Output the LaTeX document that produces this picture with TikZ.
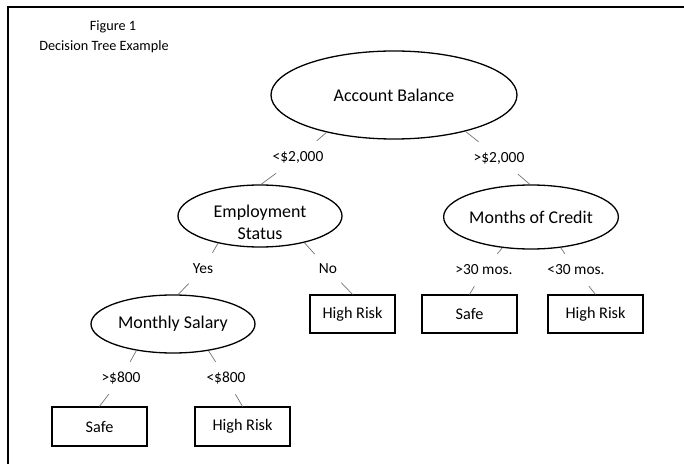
\documentclass[tikz,border=0pt]{standalone}
\usepackage{fontspec}
\setmainfont{Carlito}
\usetikzlibrary{shapes.geometric}
\begin{document}
\begin{tikzpicture}[x=1bp,y=-1bp,
  decision/.style={ellipse,draw,line width=1.3bp,inner sep=0pt,
    font=\fontsize{18}{22}\selectfont,align=center},
  leaf/.style={rectangle,draw,line width=1.2bp,inner sep=0pt,
    minimum height=38bp,minimum width=95bp,font=\fontsize{16.3}{20}\selectfont},
  cond/.style={rectangle,inner xsep=4bp,inner ysep=0pt,minimum height=32bp,
    font=\fontsize{15.5}{19}\selectfont},
  conn/.style={draw=black!55,line width=0.7bp},
  frame/.style={line width=2bp},
  caption/.style={font=\fontsize{14.3}{18}\selectfont}]
\useasboundingbox (0,0) rectangle (684,464);

% page frame
\draw[frame] (8,464) -- (8,7) -- (684,7);

% caption
\node[caption] (fig)   at (113,27) {Figure 1};
\node[caption] (title) at (104,47) {Decision Tree Example};

% decision nodes
\node[decision,minimum width=246bp,minimum height=88bp] (ab) at (394,95) {Account Balance};
\node[decision,minimum width=164bp,minimum height=62bp,
  label={[font=\fontsize{18}{22}\selectfont,align=center,yshift=-6bp]center:Employment\\Status}] (es) at (260,216) {};
\node[decision,minimum width=164bp,minimum height=64bp] (moc) at (531,217) {Months of Credit};
\node[decision,minimum width=164bp,minimum height=58bp] (ms) at (173,324) {Monthly Salary};

% leaves
\node[leaf,minimum width=85bp] (hr1) at (352.5,314) {High Risk};
\node[leaf] (safe1) at (469.5,314) {Safe};
\node[leaf] (hr2)   at (595.5,314) {High Risk};
\node[leaf,minimum height=39bp] (safe2) at (99.5,426.5) {Safe};
\node[leaf,minimum height=39bp] (hr3)   at (242.5,426.5) {High Risk};

% branch conditions
\node[cond] (lo)   at (298,157) {<\$2,000};
\node[cond] (hi)   at (499,158) {>\$2,000};
\node[cond] (yes)  at (203,269) {Yes};
\node[cond] (no)   at (328,269) {No};
\node[cond] (gt30) at (484,270) {>30 mos.};
\node[cond] (lt30) at (576,270) {<30 mos.};
\node[cond] (gt8)  at (121,378) {>\$800};
\node[cond] (lt8)  at (226,378) {<\$800};

% connectors
\draw[conn] (ab.209) -- (lo);
\draw[conn] (lo) -- (es.88);
\draw[conn] (ab.333) -- (hi);
\draw[conn] (hi) -- (moc.92);
\draw[conn] (es.213) -- (yes);
\draw[conn] (yes) -- (ms.80);
\draw[conn] (es.329) -- (no);
\draw[conn] (no) -- (hr1.north);
\draw[conn] (moc.227) -- (gt30);
\draw[conn] (gt30) -- (safe1.north);
\draw[conn] (moc.314) -- (lt30);
\draw[conn] (lt30) -- (hr2.north);
\draw[conn] (ms.216) -- (gt8);
\draw[conn] (gt8) -- (safe2.north);
\draw[conn] (ms.323) -- (lt8);
\draw[conn] (lt8) -- (hr3.north);
\end{tikzpicture}
\end{document}
